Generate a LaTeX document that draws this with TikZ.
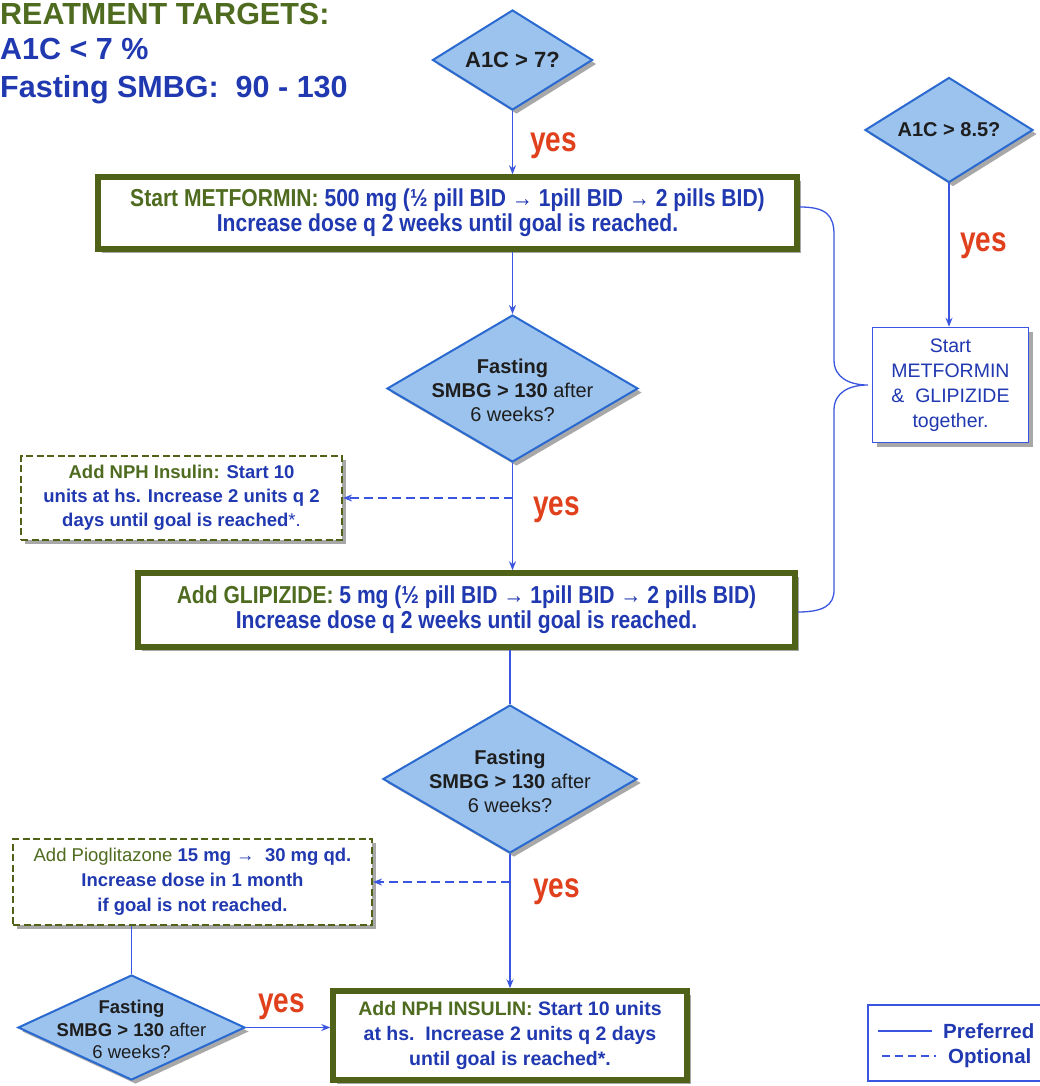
\documentclass[tikz,border=0pt]{standalone}
\usepackage{fontspec}
\setmainfont{Liberation Sans}
\newfontfamily\nar[FakeStretch=0.86]{Liberation Sans}
\newfontfamily\yesfont[FakeStretch=0.8]{Liberation Sans}
\usetikzlibrary{shapes.geometric,shadows,arrows.meta,calc}
\definecolor{olv}{HTML}{4F6218}
\definecolor{olvtext}{HTML}{4E6B1F}
\definecolor{bltext}{HTML}{2038B0}
\definecolor{ln}{HTML}{3A55E0}
\definecolor{dfill}{HTML}{9CC3EE}
\definecolor{dline}{HTML}{2A6AD0}
\definecolor{yesc}{HTML}{E0401C}
\definecolor{dtext}{HTML}{1E1E1E}
\tikzset{
 shad/.style={drop shadow={shadow xshift=4pt,shadow yshift=-4pt,fill=black!45,opacity=.75}},
 bigbox/.style={draw=olv,line width=5.5pt,fill=white,shad,inner sep=0pt,align=center,text=bltext,
   font=\nar\bfseries\fontsize{24.5}{25}\selectfont},
 optbox/.style={draw=olv,line width=2.2pt,dash pattern=on 7pt off 3.5pt,fill=white,shad,inner sep=0pt,
   align=center,text=bltext,font=\bfseries\fontsize{18.5}{24}\selectfont},
 dec/.style={diamond,draw=dline,line width=2pt,fill=dfill,shad,inner sep=0pt},
 dtxt/.style={inner sep=0pt,align=center,text=dtext,font=\fontsize{20}{24}\selectfont},
 flow/.style={draw=ln,line width=1.3pt},
 arr/.style={flow,-{Stealth[length=9pt,width=7pt]}},
 optarr/.style={arr,dash pattern=on 9pt off 5pt},
 yeslab/.style={text=yesc,font=\yesfont\bfseries\fontsize{35}{36}\selectfont,anchor=base west,inner sep=0pt},
 hdr/.style={anchor=base west,inner sep=0pt,font=\bfseries\fontsize{30.5}{31}\selectfont},
}
\begin{document}
\begin{tikzpicture}[x=1pt,y=-1pt]
\useasboundingbox (0,0) rectangle (1040,1086);
\clip (0,0) rectangle (1040,1086);
\fill[white] (0,0) rectangle (1040,1086);

% header
\node[hdr,text=olvtext] (title) at (0,25) {REATMENT TARGETS:};
\node[hdr,text=bltext] (t1) at (0,60) {A1C < 7 \%};
\node[hdr,text=bltext] (t2) at (0,98) {Fasting SMBG:\ \ 90 - 130};

% decisions
\node[dec,minimum width=160pt,minimum height=100pt] (d1) at (512.5,60) {};
\node[dtxt,font=\bfseries\fontsize{22}{24}\selectfont] (d1t) at (d1.center) {A1C > 7?};
\node[dec,minimum width=168pt,minimum height=105pt] (d5) at (949,130) {};
\node[dtxt,font=\bfseries\fontsize{20}{24}\selectfont] (d5t) at (d5.center) {A1C > 8.5?};
\node[dec,minimum width=251pt,minimum height=147pt] (d2) at (512.5,388.5) {};
\node[dtxt] (d2t) at ($(d2.center)+(0,2)$) {\textbf{Fasting}\\\textbf{SMBG > 130} after\\6 weeks?};
\node[dec,minimum width=254pt,minimum height=148pt] (d3) at (510,779) {};
\node[dtxt] (d3t) at ($(d3.center)+(0,2)$) {\textbf{Fasting}\\\textbf{SMBG > 130} after\\6 weeks?};
\node[dec,minimum width=227pt,minimum height=105pt] (d4) at (131.5,1027.5) {};
\node[dtxt,font=\fontsize{18.5}{22.5}\selectfont] (d4t) at ($(d4.center)+(0,2)$) {\textbf{Fasting}\\\textbf{SMBG > 130} after\\6 weeks?};

% boxes
\node[bigbox,minimum width=699pt,minimum height=72pt] (met) at (447.5,213)
 {{\color{olvtext}Start METFORMIN:} 500 mg (½ pill BID → 1pill BID → 2 pills BID)\\Increase dose q 2 weeks until goal is reached.};
\node[bigbox,minimum width=657pt,minimum height=74pt] (glip) at (466.5,610)
 {{\color{olvtext}Add GLIPIZIDE:} 5 mg (½ pill BID → 1pill BID → 2 pills BID)\\Increase dose q 2 weeks until goal is reached.};
\node[bigbox,minimum width=354pt,minimum height=89pt,font=\bfseries\fontsize{19.5}{25}\selectfont] (nph) at (510,1035.5)
 {{\color{olvtext}Add NPH INSULIN:} Start 10 units\\at hs.\ \ Increase 2 units q 2 days\\until goal is reached*.};
\node[optbox,minimum width=321pt,minimum height=84pt] (nphd) at (181.5,498)
 {{\color{olvtext}Add NPH Insulin:} Start 10\\units at hs. Increase 2 units q 2\\days until goal is reached{\mdseries*.}};
\node[optbox,minimum width=359pt,minimum height=86pt,font=\bfseries\fontsize{18.5}{25}\selectfont] (pio) at (192.5,882)
 {{\color{olvtext}\mdseries Add Pioglitazone} 15 mg →\ \ 30 mg qd.\\Increase dose in 1 month\\if goal is not reached.};
\node[draw=ln,line width=1.5pt,fill=white,shad,minimum width=156pt,minimum height=115pt,inner sep=0pt,
  align=center,text=bltext,font=\fontsize{19.5}{25}\selectfont] (st) at (950.5,385)
 {Start\\METFORMIN\\\&\ \ GLIPIZIDE\\together.};

% connectors
\draw[arr] (d1.south) -- (d1.south |- met.north);
\draw[arr] (d2.north |- met.south) -- (d2.north);
\draw[arr] (d2.south) -- (d2.south |- glip.north);
\draw[optarr] (d2.south |- nphd.east) -- (nphd.east);
\draw[flow] (d3.north |- glip.south) -- (d3.north);
\draw[arr] (d3.south) -- (d3.south |- nph.north);
\draw[optarr] (d3.south |- pio.east) -- (pio.east);
\draw[flow] (d4.north |- pio.south) -- (d4.north);
\draw[arr] (d4.east) -- (d4.east -| nph.west);
\draw[arr] (d5.south) -- (d5.south |- st.north);

% brace
\coordinate (b0) at ($(met.east)+(0,-6)$);
\coordinate (btip) at ($(st.west)+(-4,0)$);
\coordinate (b1) at ($(glip.east)+(0,2)$);
\draw[flow] (b0) .. controls (826,207) and (834,215) .. (834,235) -- (834,360)
  .. controls (834,378) and (850,385) .. (btip)
  .. controls (850,385) and (834,392) .. (834,410) -- (834,590)
  .. controls (834,605) and (824,612) .. (b1);

% yes labels
\node[yeslab] (y1) at (530,152) {yes};
\node[yeslab] (y2) at (533,515) {yes};
\node[yeslab] (y3) at (533,897) {yes};
\node[yeslab] (y4) at (258,1012) {yes};
\node[yeslab] (y5) at (960,251) {yes};

% legend
\node[draw=ln,line width=1.5pt,fill=white,minimum width=200pt,minimum height=76pt,anchor=north west] (leg) at (867,1004) {};
\coordinate (l1a) at (878,1031);
\coordinate (l1b) at (932,1031);
\coordinate (l2a) at (882,1056);
\coordinate (l2b) at (936,1056);
\draw[flow] (l1a) -- (l1b);
\draw[flow,dash pattern=on 8pt off 5pt] (l2a) -- (l2b);
\node[anchor=base west,inner sep=0pt,text=bltext,font=\bfseries\fontsize{20.5}{22}\selectfont] (lp) at (943,1038) {Preferred};
\node[anchor=base west,inner sep=0pt,text=bltext,font=\bfseries\fontsize{20.5}{22}\selectfont] (lo) at (948,1063) {Optional};
\end{tikzpicture}
\end{document}
